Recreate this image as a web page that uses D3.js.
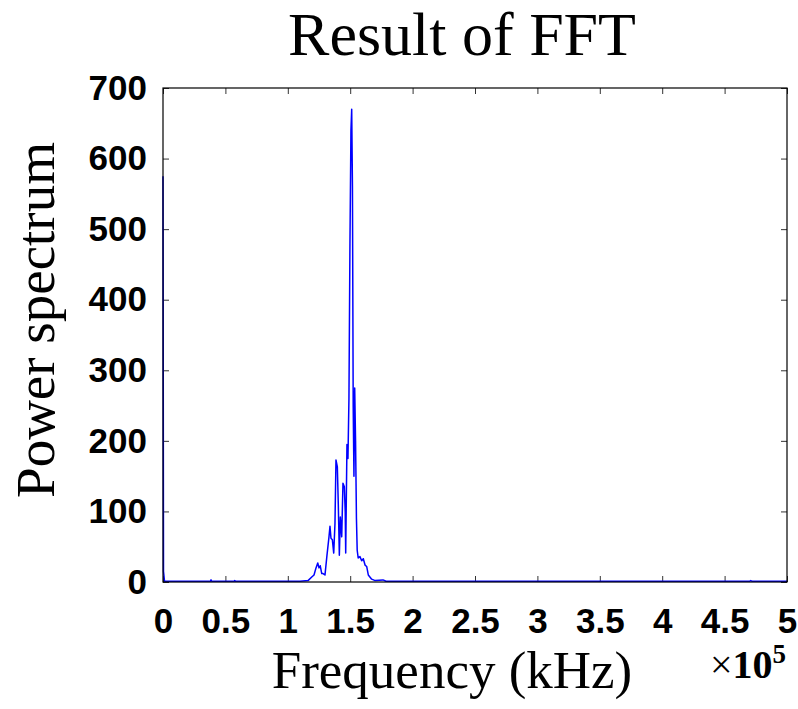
<!DOCTYPE html>
<html>
<head>
<meta charset="utf-8">
<script src="https://cdn.jsdelivr.net/npm/d3@7"></script>
<style>
  html, body { margin: 0; padding: 0; background: #fff; }
  svg { display: block; }
</style>
</head>
<body>
<div id="chart"></div>
<script>
// Frequency in units of 1e5 (axis carries the x10^5 multiplier)
const freq = [
    0, 0.004, 0.012, 0.38, 0.385, 0.39, 0.57, 0.575, 0.58,
    1.098, 1.162, 1.192, 1.21, 1.226, 1.24, 1.25, 1.26, 1.272, 1.282, 1.298,
    1.314, 1.33, 1.338, 1.346, 1.357, 1.368, 1.378, 1.386, 1.397, 1.405,
    1.413, 1.421, 1.432, 1.442, 1.453, 1.46, 1.464, 1.474, 1.482, 1.49,
    1.498, 1.506, 1.512, 1.518, 1.524, 1.53, 1.536, 1.543, 1.55, 1.556,
    1.564, 1.578, 1.592, 1.605, 1.619, 1.632, 1.645, 1.672, 1.7, 1.763,
    1.787, 4.7, 4.71, 4.72, 5.0
];
const power = [
    575, 15, 1, 1, 3, 1, 1, 2, 1,
    1, 2, 7, 10, 20, 27, 20, 23, 12, 12, 10,
    38, 64, 79, 62, 60, 41, 83, 173, 163, 107,
    38, 92, 64, 140, 135, 100, 41, 195, 175, 260,
    480, 640, 670, 560, 250, 150, 275, 200, 90, 45,
    34, 36, 30, 33, 24, 22, 10, 4, 2, 3,
    1, 1, 2, 1, 1
];
const xTicks = [0, 0.5, 1, 1.5, 2, 2.5, 3, 3.5, 4, 4.5, 5];
const yTicks = [0, 100, 200, 300, 400, 500, 600, 700];

const W = 798, H = 709;
const margin = { top: 88, right: 11, bottom: 127, left: 163 };
const iw = W - margin.left - margin.right;
const ih = H - margin.top - margin.bottom;

const svg = d3.select("#chart").append("svg")
    .attr("width", W)
    .attr("height", H);

const x = d3.scaleLinear().domain([0, 5]).range([0, iw]);
const y = d3.scaleLinear().domain([0, 700]).range([ih, 0]);

const g = svg.append("g")
    .attr("transform", `translate(${margin.left},${margin.top})`);

const tickFont = "'Liberation Sans', Arial, sans-serif";
const serif = "'Liberation Serif', 'Times New Roman', serif";

// Axes with inward ticks
g.append("g")
    .attr("transform", `translate(0,${ih})`)
    .call(d3.axisBottom(x).tickValues(xTicks).tickFormat(d3.format("~g"))
        .tickSizeInner(-6).tickSizeOuter(0).tickPadding(26));
g.append("g")
    .call(d3.axisLeft(y).tickValues(yTicks)
        .tickSizeInner(-6).tickSizeOuter(0).tickPadding(16));
g.append("g")
    .call(d3.axisTop(x).tickValues(xTicks).tickFormat("")
        .tickSizeInner(-6).tickSizeOuter(0));
g.append("g")
    .attr("transform", `translate(${iw},0)`)
    .call(d3.axisRight(y).tickValues(yTicks).tickFormat("")
        .tickSizeInner(-6).tickSizeOuter(0));

g.selectAll(".domain").remove();
g.selectAll(".tick line").attr("stroke", "#333").attr("stroke-width", 1);
g.selectAll(".tick text")
    .attr("fill", "#000")
    .style("font-family", tickFont)
    .style("font-weight", "bold")
    .style("font-size", "35px");

// Spectrum line
const line = d3.line()
    .x((d, i) => x(freq[i]))
    .y(d => y(d));

g.append("path")
    .datum(power)
    .attr("fill", "none")
    .attr("stroke", "#0000ff")
    .attr("stroke-width", 1.5)
    .attr("stroke-linejoin", "round")
    .attr("d", line);

// Frame
g.append("rect")
    .attr("width", iw)
    .attr("height", ih)
    .attr("fill", "none")
    .attr("stroke", "#000")
    .attr("stroke-width", 1.2);

// Title
svg.append("text")
    .attr("x", 462)
    .attr("y", 55)
    .attr("text-anchor", "middle")
    .style("font-family", serif)
    .style("font-size", "62px")
    .text("Result of FFT");

// Axis labels
svg.append("text")
    .attr("x", 452)
    .attr("y", 688)
    .attr("text-anchor", "middle")
    .style("font-family", serif)
    .style("font-size", "53px")
    .text("Frequency (kHz)");

svg.append("text")
    .attr("transform", "translate(54,320) rotate(-90)")
    .attr("text-anchor", "middle")
    .style("font-family", serif)
    .style("font-size", "55px")
    .text("Power spectrum");

// x10^5 multiplier
const mult = svg.append("text")
    .attr("x", 710)
    .attr("y", 678)
    .style("font-family", serif)
    .style("font-size", "40px");
mult.append("tspan").text("\u00d7");
mult.append("tspan").style("font-weight", "bold").text("10");
mult.append("tspan").style("font-weight", "bold").style("font-size", "27px")
    .attr("dy", -15).text("5");
</script>
</body>
</html>
